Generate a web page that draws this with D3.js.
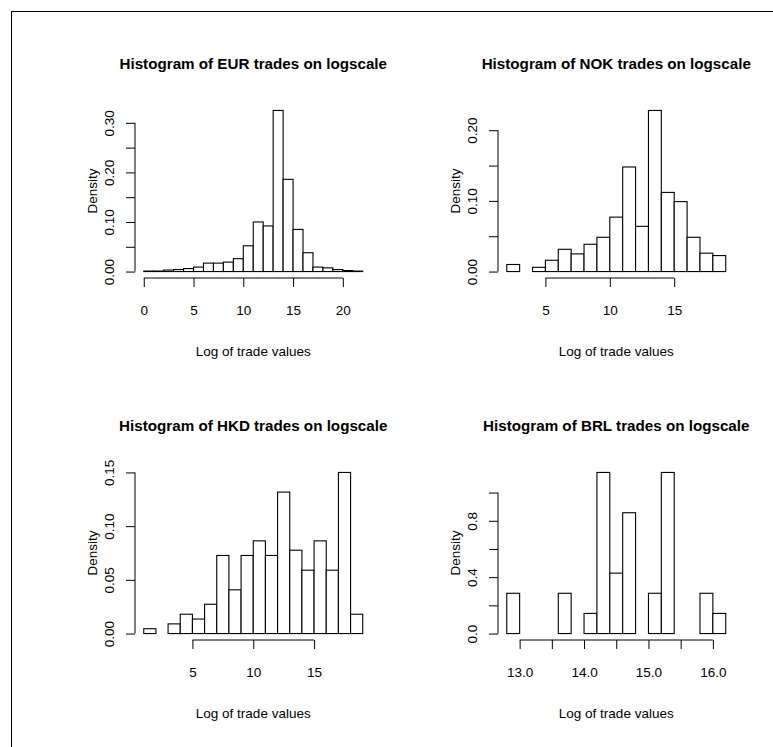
<!DOCTYPE html>
<html>
<head>
<meta charset="utf-8">
<script src="https://cdn.jsdelivr.net/npm/d3@7/dist/d3.min.js"></script>
<style>
  html, body { margin: 0; padding: 0; background: #fff; }
  svg { display: block; font-family: "Liberation Sans", Arial, Helvetica, sans-serif; }
</style>
</head>
<body>
<svg id="chart" width="773" height="747"></svg>
<script>
// ---- Data ----
const eurBreaks  = [0,1,2,3,4,5,6,7,8,9,10,11,12,13,14,15,16,17,18,19,20,21,22];
const eurDensity = [0.001,0.001,0.003,0.004,0.006,0.009,0.017,0.017,0.019,0.026,0.052,0.100,0.092,0.325,0.186,0.085,0.038,0.009,0.0075,0.004,0.002,0.001];
const eurXTicks  = [0,5,10,15,20];
const eurXLabels = ["0","5","10","15","20"];
const eurYTicks  = [0,0.05,0.10,0.15,0.20,0.25,0.30];
const eurYLabels = ["0.00","","0.10","","0.20","","0.30"];

const nokBreaks  = [2,3,4,5,6,7,8,9,10,11,12,13,14,15,16,17,18,19];
const nokDensity = [0.010,0,0.006,0.016,0.0315,0.025,0.0386,0.0485,0.077,0.148,0.064,0.228,0.112,0.099,0.0485,0.026,0.0226];
const nokXTicks  = [5,10,15];
const nokXLabels = ["5","10","15"];
const nokYTicks  = [0,0.05,0.10,0.15,0.20];
const nokYLabels = ["0.00","","0.10","","0.20"];

const hkdBreaks  = [1,2,3,4,5,6,7,8,9,10,11,12,13,14,15,16,17,18,19];
const hkdDensity = [0.0045,0,0.009,0.018,0.0135,0.0273,0.0727,0.0407,0.0727,0.0863,0.0727,0.1317,0.0776,0.059,0.0863,0.059,0.150,0.018];
const hkdXTicks  = [5,10,15];
const hkdXLabels = ["5","10","15"];
const hkdYTicks  = [0,0.05,0.10,0.15];
const hkdYLabels = ["0.00","0.05","0.10","0.15"];

const brlBreaks  = [12.8,13.0,13.2,13.4,13.6,13.8,14.0,14.2,14.4,14.6,14.8,15.0,15.2,15.4,15.6,15.8,16.0,16.2];
const brlDensity = [0.2857,0,0,0,0.2857,0,0.1429,1.1429,0.4286,0.8571,0,0.2857,1.1429,0,0,0.2857,0.1429];
const brlXTicks  = [13.0,13.5,14.0,14.5,15.0,15.5,16.0];
const brlXLabels = ["13.0","","14.0","","15.0","","16.0"];
const brlYTicks  = [0,0.2,0.4,0.6,0.8,1.0];
const brlYLabels = ["0.0","","0.4","","0.8",""];

const titles = ["Histogram of EUR trades on logscale","Histogram of NOK trades on logscale",
                "Histogram of HKD trades on logscale","Histogram of BRL trades on logscale"];
const xTitle = "Log of trade values";
const yTitle = "Density";

const panels = [
  {title: titles[0], breaks: eurBreaks, dens: eurDensity, xt: eurXTicks, xl: eurXLabels, yt: eurYTicks, yl: eurYLabels, col: 0, row: 0},
  {title: titles[1], breaks: nokBreaks, dens: nokDensity, xt: nokXTicks, xl: nokXLabels, yt: nokYTicks, yl: nokYLabels, col: 1, row: 0},
  {title: titles[2], breaks: hkdBreaks, dens: hkdDensity, xt: hkdXTicks, xl: hkdXLabels, yt: hkdYTicks, yl: hkdYLabels, col: 0, row: 1},
  {title: titles[3], breaks: brlBreaks, dens: brlDensity, xt: brlXTicks, xl: brlXLabels, yt: brlYTicks, yl: brlYLabels, col: 1, row: 1}
];

// ---- Layout ----
const svg = d3.select("#chart");
const colLeft = [135, 498];
const rowTop = [104, 466];
const plotW = 236.5, plotH = 174;
const tickLen = 9;
const fontSize = 13.5;

// outer frame (only top and left edges visible)
svg.append("rect")
  .attr("x", 11.5).attr("y", 11.5)
  .attr("width", 900).attr("height", 900)
  .attr("fill", "none").attr("stroke", "#000").attr("stroke-width", 1);

panels.forEach(p => {
  const L = colLeft[p.col], T = rowTop[p.row];
  const R = L + plotW, B = T + plotH;
  const x0 = p.breaks[0], x1 = p.breaks[p.breaks.length - 1];
  const xr = x1 - x0;
  const x = d3.scaleLinear().domain([x0 - 0.04 * xr, x1 + 0.04 * xr]).range([L, R]);
  const ymax = d3.max(p.dens);
  const y = d3.scaleLinear().domain([-0.04 * ymax, ymax * 1.04]).range([B, T]);

  const g = svg.append("g");

  // bars
  g.selectAll("rect.bar")
    .data(p.dens)
    .join("rect")
    .attr("class", "bar")
    .attr("x", (d, i) => x(p.breaks[i]))
    .attr("width", (d, i) => x(p.breaks[i + 1]) - x(p.breaks[i]))
    .attr("y", d => y(d))
    .attr("height", d => y(0) - y(d))
    .attr("fill", "#fff")
    .attr("stroke", "#000")
    .attr("stroke-width", 1.1);

  // x axis
  const xa = g.append("g").attr("transform", `translate(0,${B})`)
    .call(d3.axisBottom(x).tickValues(p.xt).tickSize(tickLen).tickSizeOuter(0)
      .tickFormat((d, i) => p.xl[i]));
  xa.select(".domain").remove();
  xa.selectAll(".tick line").attr("stroke", "#000").attr("stroke-width", 1);
  xa.selectAll(".tick text")
    .attr("y", 32).attr("dy", "0.35em")
    .attr("font-size", fontSize).attr("fill", "#000")
    .attr("font-family", "Liberation Sans, Arial, sans-serif");
  xa.append("line")
    .attr("x1", x(p.xt[0])).attr("x2", x(p.xt[p.xt.length - 1]))
    .attr("y1", 0).attr("y2", 0).attr("stroke", "#000").attr("stroke-width", 1);

  // y axis
  const ya = g.append("g").attr("transform", `translate(${L},0)`)
    .call(d3.axisLeft(y).tickValues(p.yt).tickSize(tickLen).tickSizeOuter(0)
      .tickFormat((d, i) => p.yl[i]));
  ya.select(".domain").remove();
  ya.selectAll(".tick line").attr("stroke", "#000").attr("stroke-width", 1);
  ya.selectAll(".tick text")
    .attr("x", 0).attr("dy", null)
    .attr("text-anchor", "middle")
    .attr("dominant-baseline", "central")
    .attr("transform", "translate(-26,0) rotate(-90)")
    .attr("font-size", fontSize).attr("fill", "#000")
    .attr("font-family", "Liberation Sans, Arial, sans-serif");
  ya.append("line")
    .attr("y1", y(p.yt[0])).attr("y2", y(p.yt[p.yt.length - 1]))
    .attr("x1", 0).attr("x2", 0).attr("stroke", "#000").attr("stroke-width", 1);

  // titles
  g.append("text")
    .attr("x", (L + R) / 2).attr("y", T - 41)
    .attr("text-anchor", "middle").attr("dominant-baseline", "central")
    .attr("font-size", 15.2).attr("font-weight", "bold").attr("fill", "#000")
    .text(p.title);
  g.append("text")
    .attr("x", (L + R) / 2).attr("y", B + 73)
    .attr("text-anchor", "middle").attr("dominant-baseline", "central")
    .attr("font-size", fontSize).attr("fill", "#000")
    .text(xTitle);
  g.append("text")
    .attr("transform", `translate(${L - 43},${(T + B) / 2}) rotate(-90)`)
    .attr("text-anchor", "middle").attr("dominant-baseline", "central")
    .attr("font-size", fontSize).attr("fill", "#000")
    .text(yTitle);
});
</script>
</body>
</html>
